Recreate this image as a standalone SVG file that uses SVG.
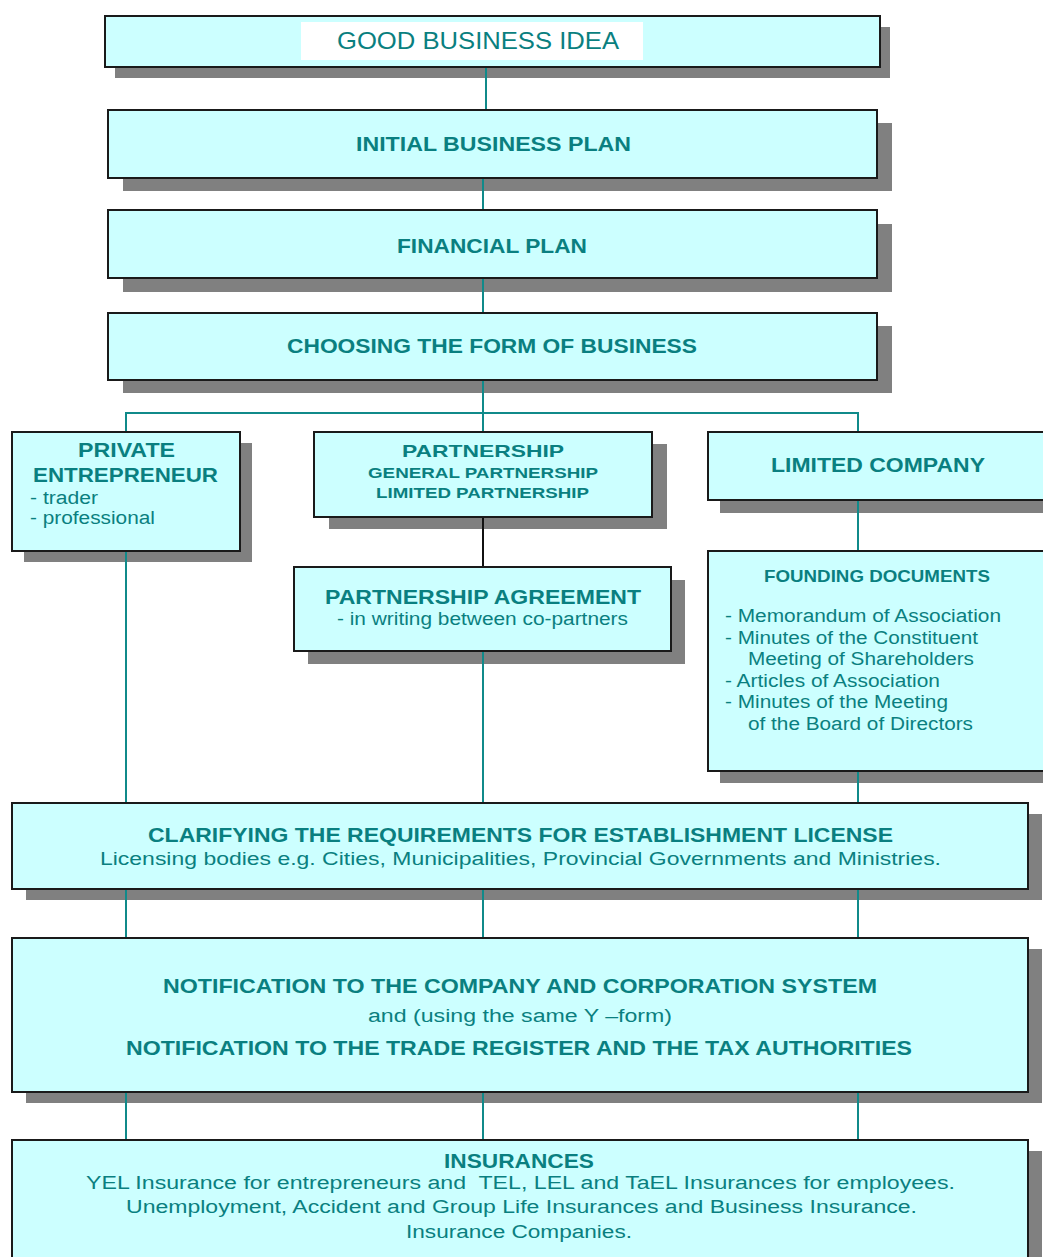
<svg xmlns="http://www.w3.org/2000/svg" width="1043" height="1257" viewBox="0 0 1043 1257">
  <style>
    .box { fill: #ccffff; stroke: #1a1a1a; stroke-width: 2; }
    .shadow { fill: #808080; }
    .t { font-family: "Liberation Sans", Arial, sans-serif; fill: #0a7f80; }
    .h { font-weight: bold; font-size: 19.5px; }
    .hs { font-weight: bold; font-size: 17px; }
    .hx { font-weight: bold; font-size: 15px; }
    .b { font-size: 18px; }
    .link { stroke: #108a8a; stroke-width: 2; fill: none; }
    .link-dark { stroke: #111111; stroke-width: 2; fill: none; }
  </style>
  <rect width="1043" height="1257" fill="#ffffff"/>

  <g id="idea">
    <rect class="shadow" x="115" y="27" width="775" height="51"/>
    <rect class="box" x="105" y="16" width="775" height="51"/>
    <rect x="301" y="22" width="342" height="38" fill="#ffffff"/>
    <text class="t" x="337" y="49" font-size="24" textLength="282" lengthAdjust="spacingAndGlyphs">GOOD BUSINESS IDEA</text>
  </g>

  <g id="initial-plan">
    <rect class="shadow" x="123" y="123" width="769" height="68"/>
    <rect class="box" x="108" y="110" width="769" height="68"/>
    <text class="t h" x="356" y="151" textLength="275" lengthAdjust="spacingAndGlyphs">INITIAL BUSINESS PLAN</text>
  </g>

  <g id="financial-plan">
    <rect class="shadow" x="123" y="224" width="769" height="68"/>
    <rect class="box" x="108" y="210" width="769" height="68"/>
    <text class="t h" x="397" y="253" textLength="190" lengthAdjust="spacingAndGlyphs">FINANCIAL PLAN</text>
  </g>

  <g id="business-form">
    <rect class="shadow" x="123" y="326" width="769" height="67"/>
    <rect class="box" x="108" y="313" width="769" height="67"/>
    <text class="t h" x="287" y="353" textLength="410" lengthAdjust="spacingAndGlyphs">CHOOSING THE FORM OF BUSINESS</text>
  </g>

  <g id="private-entrepreneur">
    <rect class="shadow" x="24" y="443" width="228" height="119"/>
    <rect class="box" x="12" y="432" width="228" height="119"/>
    <text class="t h" x="78" y="457" textLength="97" lengthAdjust="spacingAndGlyphs">PRIVATE</text>
    <text class="t h" x="33" y="482" textLength="185" lengthAdjust="spacingAndGlyphs">ENTREPRENEUR</text>
    <text class="t b" x="30" y="504" textLength="68" lengthAdjust="spacingAndGlyphs">- trader</text>
    <text class="t b" x="30" y="524" textLength="125" lengthAdjust="spacingAndGlyphs">- professional</text>
  </g>

  <g id="partnership">
    <rect class="shadow" x="329" y="444" width="338" height="85"/>
    <rect class="box" x="314" y="432" width="338" height="85"/>
    <text class="t hs" x="402" y="457" textLength="162" lengthAdjust="spacingAndGlyphs">PARTNERSHIP</text>
    <text class="t hx" x="368" y="478" textLength="230" lengthAdjust="spacingAndGlyphs">GENERAL PARTNERSHIP</text>
    <text class="t hx" x="376" y="498" textLength="213" lengthAdjust="spacingAndGlyphs">LIMITED PARTNERSHIP</text>
  </g>

  <g id="partnership-agreement">
    <rect class="shadow" x="308" y="580" width="377" height="84"/>
    <rect class="box" x="294" y="567" width="377" height="84"/>
    <text class="t h" x="325" y="604" font-size="19" textLength="316" lengthAdjust="spacingAndGlyphs">PARTNERSHIP AGREEMENT</text>
    <text class="t b" x="337" y="625" font-size="16" textLength="291" lengthAdjust="spacingAndGlyphs">- in writing between co-partners</text>
  </g>

  <g id="limited-company">
    <rect class="shadow" x="720" y="445" width="345" height="68"/>
    <rect class="box" x="708" y="432" width="345" height="68"/>
    <text class="t h" x="771" y="472" textLength="214" lengthAdjust="spacingAndGlyphs">LIMITED COMPANY</text>
  </g>

  <g id="founding-documents">
    <rect class="shadow" x="720" y="563" width="345" height="220"/>
    <rect class="box" x="708" y="551" width="345" height="220"/>
    <text class="t hs" x="764" y="582" textLength="226" lengthAdjust="spacingAndGlyphs">FOUNDING DOCUMENTS</text>
    <text class="t b" x="725" y="622" textLength="276" lengthAdjust="spacingAndGlyphs">- Memorandum of Association</text>
    <text class="t b" x="725" y="643.5" textLength="253" lengthAdjust="spacingAndGlyphs">- Minutes of the Constituent</text>
    <text class="t b" x="748" y="665" textLength="226" lengthAdjust="spacingAndGlyphs">Meeting of Shareholders</text>
    <text class="t b" x="725" y="686.5" textLength="215" lengthAdjust="spacingAndGlyphs">- Articles of Association</text>
    <text class="t b" x="725" y="708" textLength="223" lengthAdjust="spacingAndGlyphs">- Minutes of the Meeting</text>
    <text class="t b" x="748" y="729.5" textLength="225" lengthAdjust="spacingAndGlyphs">of the Board of Directors</text>
  </g>

  <g id="establishment-license">
    <rect class="shadow" x="26" y="814" width="1016" height="86"/>
    <rect class="box" x="12" y="803" width="1016" height="86"/>
    <text class="t h" x="148" y="842" font-size="18" textLength="745" lengthAdjust="spacingAndGlyphs">CLARIFYING THE REQUIREMENTS FOR ESTABLISHMENT LICENSE</text>
    <text class="t b" x="100" y="865" textLength="841" lengthAdjust="spacingAndGlyphs">Licensing bodies e.g. Cities, Municipalities, Provincial Governments and Ministries.</text>
  </g>

  <g id="notification">
    <rect class="shadow" x="26" y="949" width="1016" height="154"/>
    <rect class="box" x="12" y="938" width="1016" height="154"/>
    <text class="t h" x="163" y="993" font-size="18" textLength="714" lengthAdjust="spacingAndGlyphs">NOTIFICATION TO THE COMPANY AND CORPORATION SYSTEM</text>
    <text class="t b" x="368" y="1022" font-size="17" textLength="304" lengthAdjust="spacingAndGlyphs">and (using the same Y –form)</text>
    <text class="t h" x="126" y="1055" font-size="18" textLength="786" lengthAdjust="spacingAndGlyphs">NOTIFICATION TO THE TRADE REGISTER AND THE TAX AUTHORITIES</text>
  </g>

  <g id="insurances">
    <rect class="shadow" x="26" y="1151" width="1016" height="130"/>
    <rect class="box" x="12" y="1140" width="1016" height="130"/>
    <text class="t h" x="444" y="1168" font-size="18" textLength="150" lengthAdjust="spacingAndGlyphs">INSURANCES</text>
    <text class="t b" x="86" y="1189" textLength="869" lengthAdjust="spacingAndGlyphs" xml:space="preserve">YEL Insurance for entrepreneurs and  TEL, LEL and TaEL Insurances for employees.</text>
    <text class="t b" x="126" y="1213" textLength="791" lengthAdjust="spacingAndGlyphs">Unemployment, Accident and Group Life Insurances and Business Insurance.</text>
    <text class="t b" x="406" y="1238" textLength="226" lengthAdjust="spacingAndGlyphs">Insurance Companies.</text>
  </g>

  <g id="connectors">
    <line class="link" x1="486" y1="68" x2="486" y2="109"/>
    <line class="link" x1="483" y1="179" x2="483" y2="209"/>
    <line class="link" x1="483" y1="279" x2="483" y2="312"/>
    <line class="link" x1="483" y1="381" x2="483" y2="431"/>
    <polyline class="link" points="126,431 126,413 858,413 858,431"/>
    <line class="link-dark" x1="483" y1="518" x2="483" y2="566"/>
    <line class="link" x1="126" y1="552" x2="126" y2="802"/>
    <line class="link" x1="483" y1="652" x2="483" y2="802"/>
    <line class="link" x1="858" y1="501" x2="858" y2="550"/>
    <line class="link" x1="858" y1="772" x2="858" y2="802"/>
    <line class="link" x1="126" y1="890" x2="126" y2="937"/>
    <line class="link" x1="483" y1="890" x2="483" y2="937"/>
    <line class="link" x1="858" y1="890" x2="858" y2="937"/>
    <line class="link" x1="126" y1="1093" x2="126" y2="1139"/>
    <line class="link" x1="483" y1="1093" x2="483" y2="1139"/>
    <line class="link" x1="858" y1="1093" x2="858" y2="1139"/>
  </g>
</svg>
